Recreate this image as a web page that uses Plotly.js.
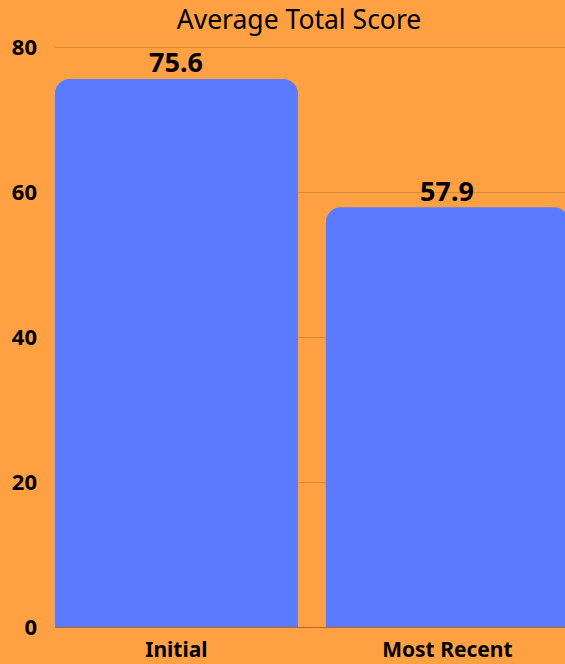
<!DOCTYPE html>
<html>
<head>
<meta charset="utf-8">
<script src="https://cdn.plot.ly/plotly-3.0.1.min.js"></script>
<style>
  html, body { margin: 0; padding: 0; background: #FFA143; }
  #chart { width: 565px; height: 664px; }
</style>
</head>
<body>
<div id="chart"></div>
<script>
// Average total score, first assessment vs. latest
const categories = ["Initial", "Most Recent"];
const scores = [75.6, 57.9];
const yTicks = [0, 20, 40, 60, 80];

const FONT = "'Noto Sans', 'Open Sans', sans-serif";
const ORANGE = "#FFA143";
const BLUE = "#5A7BFF";
const GRID = "#D9893C";

const trace = {
  type: "bar",
  x: categories,
  y: scores,
  marker: { color: BLUE, cornerradius: 15 },
  hoverinfo: "x+y"
};

// value labels sit just above each bar
const valueLabels = categories.map((c, i) => ({
  x: c,
  y: scores[i],
  xref: "x",
  yref: "y",
  text: scores[i].toFixed(1),
  showarrow: false,
  yanchor: "middle",
  yshift: 17,
  font: { family: FONT, size: 27, color: "#000", weight: 700 }
}));

const layout = {
  width: 565,
  height: 664,
  paper_bgcolor: ORANGE,
  plot_bgcolor: ORANGE,
  margin: { l: 55, r: 0, t: 46, b: 37 },
  bargap: 0.103,
  showlegend: false,
  annotations: valueLabels,
  title: {
    text: "Average Total Score",
    font: { family: FONT, size: 26.5, color: "#000" },
    x: 299 / 565,
    xanchor: "center",
    xref: "container",
    y: 1 - 20 / 664,
    yanchor: "middle",
    yref: "container"
  },
  xaxis: {
    type: "category",
    range: [-0.448, 1.434],
    showgrid: false,
    zeroline: false,
    showline: false,
    ticks: "",
    tickfont: { family: FONT, size: 21, color: "#000", weight: 700 },
    ticklabelstandoff: 8
  },
  yaxis: {
    range: [0, 80.14],
    tickvals: yTicks,
    ticktext: yTicks.map(String),
    showgrid: true,
    gridcolor: GRID,
    gridwidth: 1,
    zeroline: true,
    zerolinecolor: "#B8661E",
    zerolinewidth: 1,
    showline: false,
    ticks: "",
    tickfont: { family: FONT, size: 22, color: "#000", weight: 700 },
    ticklabelstandoff: 17
  }
};

Plotly.newPlot("chart", [trace], layout, { displayModeBar: false, staticPlot: true });
</script>
</body>
</html>
